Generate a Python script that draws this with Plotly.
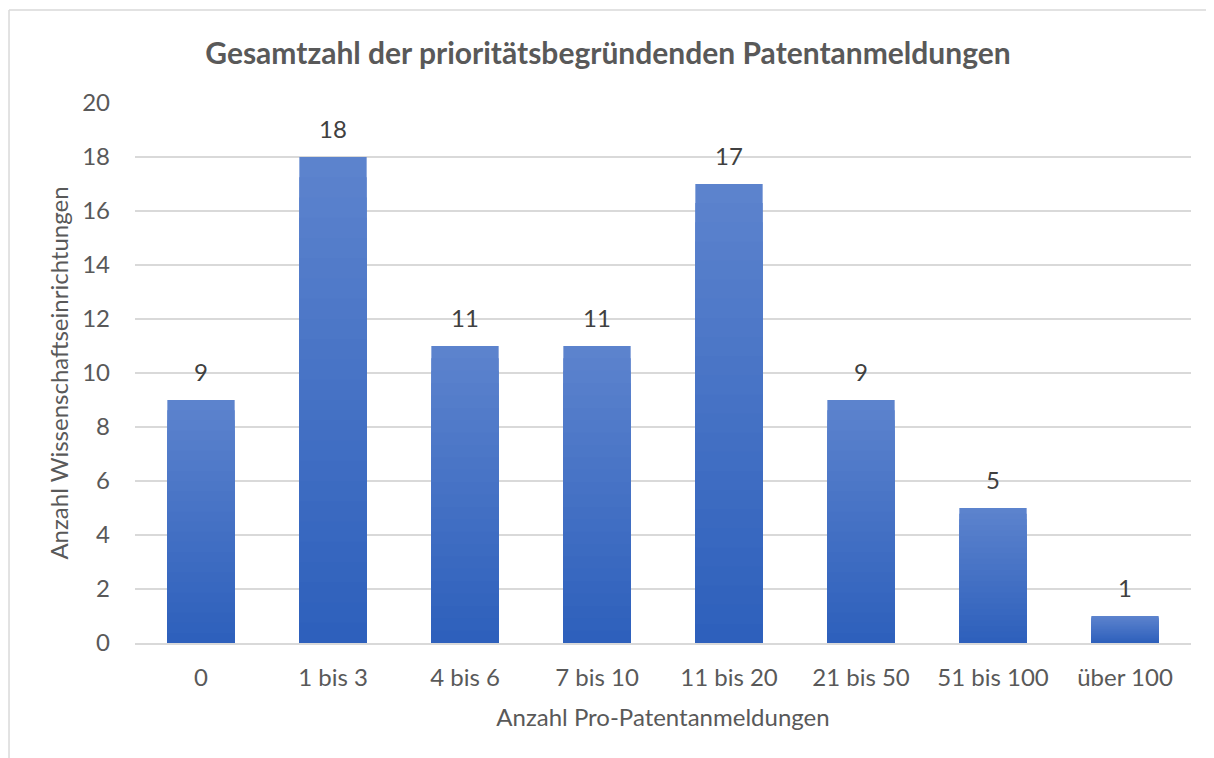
import plotly.graph_objects as go

categories = ["0", "1 bis 3", "4 bis 6", "7 bis 10", "11 bis 20", "21 bis 50", "51 bis 100", "über 100"]
values = [9, 18, 11, 11, 17, 9, 5, 1]
y_ticks = [0, 2, 4, 6, 8, 10, 12, 14, 16, 18, 20]

title = "Gesamtzahl der prioritätsbegründenden Patentanmeldungen"
x_title = "Anzahl Pro-Patentanmeldungen"
y_title = "Anzahl Wissenschaftseinrichtungen"

FONT = "Lato, Open Sans, sans-serif"
top_rgb = (92, 131, 205)
bot_rgb = (46, 96, 188)
steps = 24

fig = go.Figure()
for i in range(steps):
    frac = 1 - i / steps
    t = i / (steps - 1)
    c = tuple(round(top_rgb[k] + (bot_rgb[k] - top_rgb[k]) * t) for k in range(3))
    fig.add_trace(go.Bar(
        x=categories, y=[v * frac for v in values],
        marker=dict(color="rgb(%d,%d,%d)" % c, line=dict(width=0)),
        hoverinfo="skip", showlegend=False,
    ))

for cat, v in zip(categories, values):
    fig.add_annotation(x=cat, y=v, text=str(v), showarrow=False, yanchor="bottom",
                       yshift=12, font=dict(size=24, color="#404040", family=FONT))

fig.update_layout(
    width=1206, height=750,
    margin=dict(l=127, r=23, t=95, b=115),
    barmode="overlay", bargap=0.49,
    paper_bgcolor="white", plot_bgcolor="white",
    font=dict(family=FONT, color="#595959", size=24),
    title=dict(text="<b>" + title + "</b>", x=0.4975, xanchor="center", y=0.939, yanchor="middle",
               font=dict(size=30, color="#595959", family=FONT)),
    xaxis=dict(title=dict(text=x_title, font=dict(size=24, color="#595959"), standoff=20),
               showgrid=False, showline=True, linecolor="#D9D9D9", linewidth=1.5,
               ticks="", ticklabelstandoff=12, tickfont=dict(size=24, color="#595959")),
    yaxis=dict(title=dict(text=y_title, font=dict(size=24, color="#595959"), standoff=6),
               range=[0, 20], tickvals=y_ticks, showgrid=True, gridcolor="#D9D9D9", gridwidth=1.5,
               zeroline=False, ticks="", ticklabelstandoff=24,
               tickfont=dict(size=24, color="#595959")),
    shapes=[
        dict(type="line", xref="paper", yref="paper", x0=-0.1193, x1=-0.1193, y0=1.172, y1=-0.25,
             line=dict(color="#D9D9D9", width=1.5)),
        dict(type="line", xref="paper", yref="paper", x0=-0.1193, x1=1.05, y0=1.172, y1=1.172,
             line=dict(color="#D9D9D9", width=1.5)),
    ],
)

fig.write_html("out.html", config={"displayModeBar": False})
